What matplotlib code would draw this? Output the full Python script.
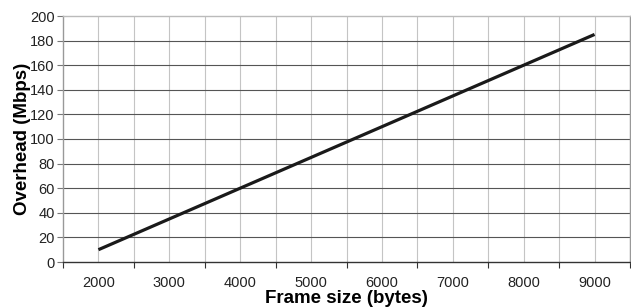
import matplotlib.pyplot as plt
import numpy as np

plt.rcParams['font.family'] = ['Liberation Sans', 'DejaVu Sans']

# frame size categories and overhead values
frame_size = [2000, 3000, 4000, 5000, 6000, 7000, 8000, 9000]
overhead = [10, 35, 60, 85, 110, 135, 160, 185]
y_ticks = list(range(0, 201, 20))

fig = plt.figure(figsize=(6.31, 3.08), dpi=100)
ax = fig.add_axes([63 / 631, 46 / 308, 567 / 631, 246 / 308])

ax.plot(frame_size, overhead, '-', color='#1a1a1a', linewidth=2.3, solid_capstyle='butt', zorder=3)

ax.set_xlim(1500, 9500)
ax.set_ylim(0, 200)

# major ticks at category boundaries, labels at centres
ax.set_xticks(np.arange(1500, 9501, 1000))
ax.set_xticklabels([])
ax.set_xticks(frame_size, minor=True)
ax.set_xticklabels([str(v) for v in frame_size], minor=True, fontsize=10.5, color='#222222')
ax.tick_params(axis='x', which='minor', length=0, pad=10)
ax.tick_params(axis='x', which='major', length=4, color='#333333', direction='out')

ax.set_yticks(y_ticks)
ax.set_yticklabels([str(v) for v in y_ticks], fontsize=10.5, color='#222222')
ax.tick_params(axis='y', length=4, color='#777777', pad=2)

# grid
for xv in np.arange(2000, 9501, 500):
    ax.axvline(xv, color='#c4c4c4', linewidth=0.8, zorder=1)
for yv in y_ticks[1:-1]:
    ax.axhline(yv, color='#555555', linewidth=0.8, zorder=2)

ax.spines['top'].set_color('#bbbbbb')
ax.spines['right'].set_color('#999999')
ax.spines['left'].set_color('#999999')
ax.spines['bottom'].set_color('#333333')
for s in ax.spines.values():
    s.set_linewidth(1.0)

ax.set_xlabel('Frame size (bytes)', fontsize=13.5, fontweight='bold')
ax.xaxis.set_label_coords(0.5, -41 / 246, transform=ax.transAxes)
ax.xaxis.label.set_va('baseline')
ax.set_ylabel('Overhead (Mbps)', fontsize=13.5, fontweight='bold')
ax.yaxis.set_label_coords(-40 / 567, 0.5)
ax.yaxis.label.set_va('center')

fig.savefig('out.png', dpi=100)
